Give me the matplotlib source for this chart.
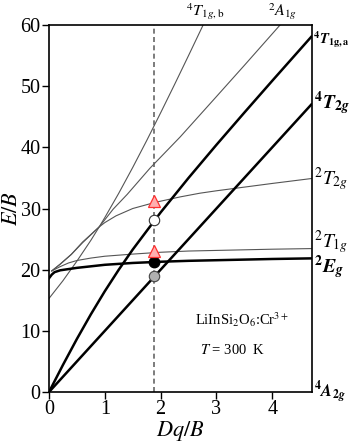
import matplotlib
matplotlib.use('Agg')
import matplotlib.pyplot as plt
from matplotlib.transforms import blended_transform_factory

plt.rcParams['font.family'] = 'Liberation Serif'
plt.rcParams['mathtext.fontset'] = 'stix'

# quartet terms
x_q = [0, 0.25, 0.5, 0.75, 1.0, 1.25, 1.5, 2.0, 2.5, 3.0, 3.5, 4.0, 4.7]
t1a_y = [0, 4.43, 8.68, 12.70, 16.48, 20.0, 23.29, 29.36, 35.0, 40.41, 45.68, 50.88, 58.08]
x_t2 = [0, 4.7]
t2_y = [0, 47.0]
x_t1b = [0, 0.25, 0.5, 0.75, 0.9, 1.0, 1.25, 1.5, 1.75, 2.0, 2.25, 2.5, 2.75, 3.0]
t1b_y = [15.3, 18.2, 21.4, 24.8, 27.0, 28.52, 32.5, 36.71, 41.1, 45.64, 50.28, 55.0, 59.78, 64.59]

# doublet terms
x_e = [0, 0.05, 0.1, 0.2, 0.35, 0.5, 0.75, 1.0, 1.5, 2.0, 2.5, 3.0, 3.5, 4.0, 4.7]
e_y = [18.6, 19.2, 19.6, 19.9, 20.1, 20.3, 20.55, 20.8, 21.1, 21.3, 21.45, 21.55, 21.65, 21.75, 21.85]
x_2t1 = [0.05, 0.2, 0.35, 0.5, 0.75, 1.0, 1.5, 2.0, 2.5, 3.0, 3.5, 4.0, 4.7]
t1_2_y = [19.8, 20.5, 21.1, 21.5, 21.9, 22.2, 22.55, 22.85, 23.05, 23.15, 23.25, 23.35, 23.45]
x_2t2 = [0.05, 0.2, 0.4, 0.6, 0.9, 1.0, 1.2, 1.5, 1.9, 2.35, 2.7, 3.0, 3.5, 4.0, 4.7]
t2_2_y = [19.8, 20.9, 22.5, 24.4, 27.0, 27.7, 28.8, 30.0, 31.0, 31.9, 32.5, 32.9, 33.5, 34.1, 34.9]
x_2a1 = [0.05, 0.2, 0.4, 0.6, 0.9, 1.15, 1.4, 1.81, 2.35, 3.0, 3.5, 4.14, 4.4]
a1_2_y = [19.8, 20.9, 22.5, 24.5, 27.0, 29.9, 32.3, 36.6, 41.7, 48.3, 53.4, 60.0, 62.7]

# experimental point
dq_b = 1.89
calc_gray = 18.9
calc_black = 21.25
calc_open = 28.07
exp_tri = [23.05, 31.2]

fig = plt.figure(figsize=(3.5, 4.47), dpi=100)
ax = fig.add_axes([0.14, 0.123, 0.751, 0.821])

thin = dict(color='#555555', lw=0.8)
thick = dict(color='black', lw=1.8)

ax.plot(x_t1b, t1b_y, **thin)
ax.plot(x_2a1, a1_2_y, **thin)
ax.plot(x_2t2, t2_2_y, **thin)
ax.plot(x_2t1, t1_2_y, **thin)
ax.plot(x_e, e_y, **thick)
ax.plot(x_q, t1a_y, **thick)
ax.plot(x_t2, t2_y, **thick)

ax.plot([dq_b, dq_b], [0, 60], color='#666666', lw=1.2, ls=(0, (3, 2)), zorder=1)

ax.plot(dq_b, calc_gray, 'o', ms=7.5, mfc='#b0b0b0', mec='#444444', mew=0.8, zorder=5)
ax.plot(dq_b, calc_black, 'o', ms=7.5, mfc='black', mec='black', zorder=5)
ax.plot(dq_b, calc_open, 'o', ms=7.5, mfc='white', mec='#333333', mew=0.8, zorder=5)
ax.plot([dq_b] * len(exp_tri), exp_tri, '^', ms=8.5, mfc='#ffb0b0', mec='#ff3030', mew=0.9,
        ls='none', zorder=6)

ax.set_xlim(0, 4.71)
ax.set_ylim(0, 60)
ax.set_xticks([0, 1, 2, 3, 4])
ax.set_yticks(range(0, 61, 10))
ax.tick_params(direction='out', length=5, width=1, labelsize=14.5, pad=1)
for s in ax.spines.values():
    s.set_linewidth(1.2)
ax.set_xlabel('$Dq/B$', fontsize=16, labelpad=0)
ax.set_ylabel('$E/B$', fontsize=16, labelpad=-1)

tr = blended_transform_factory(ax.transAxes, ax.transData)
rx = 1.008
ax.text(1.003, 57.6, r'$\mathbf{^4}\mathbfit{T}_{\mathbf{1g,a}}$', transform=tr, fontsize=10.5, va='center', ha='left')
ax.text(rx, 47.2, r'$\mathbf{^4}\mathbfit{T}_{\mathbf{2}\mathbfit{g}}$', transform=tr, fontsize=14, va='center', ha='left')
ax.text(rx, 34.8, r'$^2T_{2g}$', transform=tr, fontsize=14, va='center', ha='left')
ax.text(rx, 24.6, r'$^2T_{1g}$', transform=tr, fontsize=14, va='center', ha='left')
ax.text(rx, 20.4, r'$\mathbf{^2}\mathbfit{E}_{\mathbfit{g}}$', transform=tr, fontsize=14, va='center', ha='left')
ax.text(rx, -0.2, r'$\mathbf{^4}\mathbfit{A}_{\mathbf{2}\mathbfit{g}}$', transform=tr, fontsize=12, va='center', ha='left')

ax.text(2.80, 62.2, r'$^4T_{1g,\mathrm{b}}$', fontsize=11.5, ha='center', va='center')
ax.text(4.18, 62.2, r'$^2A_{1g}$', fontsize=11.5, ha='center', va='center')

ax.text(3.45, 11.8, r'LiInSi$_2$O$_6$:Cr$^{3+}$', fontsize=10.5, ha='center', va='center')
ax.text(3.3, 6.9, r'$T$ = 300  K', fontsize=10.5, ha='center', va='center')

fig.savefig('out.png', dpi=100)
